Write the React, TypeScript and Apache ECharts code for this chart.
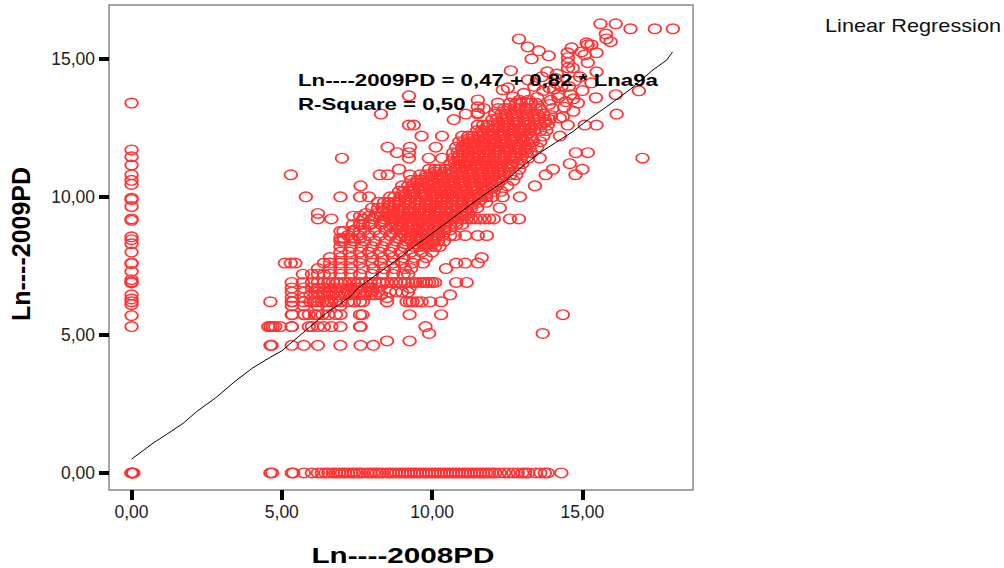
import React, { useEffect, useRef } from "react";
import * as echarts from "echarts";

const xTicks = [0, 5, 10, 15];
const yTicks = [0, 5, 10, 15];
const zeroColumnY = [13.4, 11.7, 11.45, 11.15, 10.8, 10.6, 10.45, 9.95, 9.9, 9.65, 9.2, 9.15, 8.55, 8.45, 8.3, 8.0, 7.6, 7.58, 7.3, 7.0, 6.92, 6.88, 6.45, 6.3, 6.2, 6.1, 5.7, 5.3, 0];
const zeroRowX = [0, 0.03, 0.06, 4.62, 4.68, 5.33, 5.38, 5.73, 6.0, 6.2, 6.33, 6.45, 6.55, 6.7, 6.8, 6.9, 7.0, 7.1, 7.2, 7.32, 7.4, 7.5, 7.6, 7.7, 7.85, 7.95, 8.05, 8.15, 8.25, 8.35, 8.5, 8.6, 8.7, 8.8, 8.9, 9.0, 9.1, 9.2, 9.3, 9.4, 9.5, 9.6, 9.7, 9.8, 9.9, 10.0, 10.1, 10.2, 10.3, 10.4, 10.5, 10.6, 10.7, 10.8, 10.9, 11.0, 11.1, 11.2, 11.3, 11.4, 11.5, 11.6, 11.7, 11.8, 11.9, 12.0, 12.1, 12.25, 12.4, 12.55, 12.7, 12.85, 13.0, 13.1, 13.2, 13.45, 13.6, 13.75, 13.85, 14.3];

const rowLevels = [4.62, 4.78, 5.05, 5.3, 5.73, 6.2, 6.35, 6.45, 6.7, 6.9, 7.2, 7.4, 7.6, 7.8, 8.0, 8.2, 8.4, 8.6, 8.8, 9.0, 9.2, 9.4, 9.6, 9.8, 10.0, 10.2, 10.4, 10.6, 10.8, 11.0, 11.2, 11.4, 11.6, 11.8, 12.0, 12.2, 12.4, 12.6, 12.8, 13.0, 13.2, 13.4];
const rowXs = [
  [4.62, 4.66, 5.33, 5.73, 6.2, 6.95, 7.62, 8.04],
  [8.5, 9.25],
  [9.9, 13.68],
  [4.55, 4.62, 4.7, 4.78, 4.95, 5.33, 5.9, 6.2, 6.65, 6.95, 7.6, 7.62, 9.78],
  [5.33, 5.73, 6.2, 6.55, 6.95, 7.6, 7.68, 9.25, 10.3, 14.35],
  [4.62, 5.33, 5.36, 5.73, 5.95, 6.2, 6.5, 6.8, 6.95, 7.6, 7.7, 8.5, 9.15, 9.26, 9.35, 9.5, 9.65, 9.93, 10.3],
  [5.33, 5.73, 6.2, 8.5],
  [5.95, 6.55, 6.9, 7.3, 7.6, 7.95, 8.1, 10.6],
  [5.33, 5.73, 6.0, 6.2, 6.4, 6.6, 6.8, 7.0, 7.3, 7.5, 7.6, 7.9, 8.0, 8.2, 9.25],
  [5.33, 5.7, 6.0, 6.2, 6.4, 6.55, 6.7, 6.85, 6.95, 7.1, 7.25, 7.4, 7.55, 7.65, 7.8, 7.95, 8.1, 8.25, 8.35, 8.5, 8.65, 8.8, 8.95, 9.1, 9.2, 9.35, 9.45, 9.6, 9.7, 9.8, 9.9, 10.0, 10.1, 10.8, 11.15],
  [5.7, 6.0, 6.2, 6.4, 6.6, 6.95, 7.3, 7.6, 8.0, 8.35, 8.7, 9.05, 9.2],
  [6.2, 6.6, 6.95, 7.3, 7.7, 8.05, 8.4, 8.75, 9.1, 9.3, 10.46],
  [5.1, 5.3, 5.45, 6.4, 6.6, 6.95, 7.3, 7.6, 8.0, 8.3, 8.7, 9.0, 9.35, 9.7, 10.8, 11.1, 11.52],
  [6.6, 6.95, 7.3, 7.65, 8.0, 8.35, 8.7, 9.05, 9.4, 9.8, 11.65],
  [6.95, 7.25, 7.6, 7.9, 8.25, 8.6, 8.95, 9.3, 9.65, 10.0],
  [6.95, 7.3, 7.65, 8.0, 8.35, 8.7, 9.05, 9.4, 9.55, 9.75, 9.9, 10.1, 10.25],
  [6.95, 7.05, 7.4, 7.75, 8.1, 8.45, 8.8, 9.15, 9.3, 9.5, 9.65, 9.85, 10.0, 10.2, 10.4],
  [7.2, 7.55, 7.9, 8.25, 8.6, 8.95, 9.1, 9.3, 9.45, 9.65, 9.8, 10.0, 10.15, 10.35, 10.6, 10.76, 11.1, 11.52, 11.82],
  [7.4, 7.75, 8.1, 8.45, 8.8, 9.0, 9.15, 9.35, 9.5, 9.7, 9.85, 10.05, 10.2, 10.4, 10.6],
  [7.6, 7.95, 8.3, 8.65, 8.85, 9.0, 9.2, 9.35, 9.55, 9.7, 9.9, 10.05, 10.25, 10.4, 10.6, 10.8, 11.0],
  [6.2, 6.65, 7.7, 8.05, 8.4, 8.6, 8.75, 8.95, 9.1, 9.3, 9.45, 9.65, 9.8, 10.0, 10.15, 10.35, 10.5, 10.7, 10.85, 11.0, 11.15, 11.3, 11.45, 11.6, 11.75, 11.9, 12.05, 12.59, 12.89],
  [6.2, 7.8, 8.15, 8.35, 8.5, 8.7, 8.85, 9.05, 9.2, 9.4, 9.55, 9.75, 9.9, 10.1, 10.25, 10.45, 10.6, 10.8, 11.0, 11.2],
  [8.0, 8.2, 8.35, 8.55, 8.7, 8.9, 9.05, 9.25, 9.4, 9.6, 9.75, 9.95, 10.1, 10.3, 10.45, 10.65, 10.8, 11.0, 11.15, 11.3, 11.5, 12.25],
  [8.2, 8.4, 8.55, 8.75, 8.9, 9.1, 9.25, 9.45, 9.6, 9.8, 9.95, 10.15, 10.3, 10.5, 10.65, 10.85, 11.0, 11.2, 11.35, 11.55, 11.8],
  [5.8, 6.95, 7.6, 7.9, 8.6, 8.75, 8.95, 9.1, 9.3, 9.45, 9.65, 9.8, 10.0, 10.15, 10.35, 10.5, 10.7, 10.85, 11.05, 11.2, 11.4, 11.6, 11.8, 12.0, 12.35, 12.92],
  [8.9, 9.05, 9.25, 9.4, 9.6, 9.75, 9.95, 10.1, 10.3, 10.45, 10.65, 10.8, 11.0, 11.15, 11.35, 11.5, 11.7, 11.85, 12.05, 12.3],
  [7.62, 9.0, 9.2, 9.35, 9.55, 9.7, 9.9, 10.05, 10.25, 10.4, 10.6, 10.75, 10.95, 11.1, 11.3, 11.45, 11.65, 11.8, 12.0, 12.15, 12.5, 13.42],
  [9.3, 9.5, 9.65, 9.85, 10.0, 10.2, 10.35, 10.55, 10.7, 10.9, 11.05, 11.25, 11.4, 11.6, 11.75, 11.95, 12.1, 12.3, 12.7],
  [5.3, 8.26, 8.52, 9.26, 9.6, 9.8, 9.95, 10.15, 10.3, 10.5, 10.65, 10.85, 11.0, 11.2, 11.35, 11.55, 11.7, 11.9, 12.05, 12.25, 12.4, 12.6, 12.8, 13.78, 14.77],
  [8.9, 9.9, 10.1, 10.25, 10.45, 10.6, 10.8, 10.95, 11.15, 11.3, 11.5, 11.65, 11.85, 12.0, 12.2, 12.35, 12.55, 12.9, 14.02, 15.0],
  [10.6, 10.75, 10.9, 11.1, 11.25, 11.45, 11.6, 11.8, 11.95, 12.15, 12.3, 12.5, 12.65, 12.85, 13.0, 14.58],
  [7.0, 9.23, 9.89, 10.33, 10.7, 10.85, 11.0, 11.2, 11.35, 11.55, 11.7, 11.9, 12.05, 12.25, 12.4, 12.6, 12.75, 12.95, 13.2, 13.58, 17.0],
  [8.83, 9.23, 10.7, 10.85, 11.05, 11.2, 11.4, 11.55, 11.75, 11.9, 12.1, 12.25, 12.45, 12.6, 12.8, 12.95, 13.15, 13.3, 14.78, 15.18],
  [8.52, 9.26, 10.12, 10.8, 11.0, 11.15, 11.35, 11.5, 11.7, 11.85, 12.05, 12.2, 12.4, 12.55, 12.75, 12.9, 13.1, 13.25, 13.5],
  [10.9, 11.05, 11.25, 11.4, 11.6, 11.75, 11.95, 12.1, 12.3, 12.45, 12.65, 12.8, 13.0, 13.15, 13.35, 13.6],
  [9.65, 10.33, 11.0, 11.2, 11.35, 11.55, 11.7, 11.9, 12.05, 12.25, 12.4, 12.6, 12.75, 12.95, 13.1, 13.3, 13.7, 14.25],
  [11.5, 11.65, 11.85, 12.0, 12.2, 12.35, 12.55, 12.7, 12.9, 13.05, 13.25, 13.4, 13.6, 13.8],
  [9.23, 9.39, 11.52, 11.7, 11.85, 12.05, 12.2, 12.4, 12.55, 12.75, 12.9, 13.1, 13.25, 13.45, 13.6, 13.85, 14.51, 15.08, 15.47],
  [10.72, 12.0, 12.15, 12.35, 12.5, 12.7, 12.85, 13.05, 13.2, 13.4, 13.55, 13.75, 13.9],
  [8.3, 11.12, 11.52, 12.1, 12.3, 12.45, 12.65, 12.8, 13.0, 13.15, 13.35, 13.5, 13.7, 16.14],
  [11.72, 12.2, 12.4, 12.55, 12.75, 12.9, 13.1, 13.25, 13.45, 13.6],
  [12.19, 12.6, 12.8, 12.95, 13.15, 13.3, 13.45],
];
const coreLevels = [8.3, 8.5, 8.7, 8.9, 9.1, 9.3, 9.5, 9.7, 9.9, 10.1, 10.3, 10.5, 10.7, 10.9, 11.1, 11.3, 11.5, 11.7, 11.9, 12.1, 12.3, 12.5, 12.7];
const coreXs = [
  [9.1, 9.4, 9.7, 10.0],
  [8.9, 9.2, 9.5, 9.8, 10.1],
  [8.7, 9.0, 9.3, 9.6, 9.9, 10.2],
  [8.6, 8.9, 9.2, 9.5, 9.8, 10.1, 10.4],
  [8.4, 8.7, 9.0, 9.3, 9.6, 9.9, 10.2, 10.5, 10.8],
  [8.3, 8.6, 8.9, 9.2, 9.5, 9.8, 10.1, 10.4, 10.7, 11.0],
  [8.4, 8.7, 9.0, 9.3, 9.6, 9.9, 10.2, 10.5, 10.8, 11.1],
  [8.6, 8.9, 9.2, 9.5, 9.8, 10.1, 10.4, 10.7, 11.0, 11.3],
  [8.9, 9.2, 9.5, 9.8, 10.1, 10.4, 10.7, 11.0, 11.3, 11.6],
  [9.1, 9.4, 9.7, 10.0, 10.3, 10.6, 10.9, 11.2, 11.5, 11.8],
  [9.3, 9.6, 9.9, 10.2, 10.5, 10.8, 11.1, 11.4, 11.7, 12.0],
  [9.5, 9.8, 10.1, 10.4, 10.7, 11.0, 11.3, 11.6, 11.9, 12.2],
  [9.8, 10.1, 10.4, 10.7, 11.0, 11.3, 11.6, 11.9, 12.2],
  [10.1, 10.4, 10.7, 11.0, 11.3, 11.6, 11.9, 12.2, 12.4],
  [10.8, 11.1, 11.4, 11.7, 12.0, 12.3, 12.6],
  [10.9, 11.2, 11.5, 11.8, 12.1, 12.4, 12.7],
  [10.9, 11.2, 11.5, 11.8, 12.1, 12.4, 12.7, 13.0],
  [11.0, 11.3, 11.6, 11.9, 12.2, 12.5, 12.8, 13.1],
  [11.1, 11.4, 11.7, 12.0, 12.3, 12.6, 12.9, 13.2],
  [11.2, 11.5, 11.8, 12.1, 12.4, 12.7, 13.0, 13.3],
  [11.7, 12.0, 12.3, 12.6, 12.9, 13.2],
  [11.8, 12.1, 12.4, 12.7, 13.0, 13.3],
  [12.2, 12.5, 12.8, 13.1],
];
const lowLevels = [5.3, 5.73, 6.05, 6.2, 6.45, 6.55, 8.5, 8.75, 9.0, 9.3];
const lowXs = [
  [5.33, 6.0, 6.4],
  [5.35, 5.75, 5.9, 6.1, 6.35, 6.8],
  [5.33, 5.73, 6.2, 6.5, 6.95],
  [6.05, 6.35, 6.65, 7.2, 7.4],
  [6.2, 6.4, 6.7, 7.1, 7.45, 7.75, 8.3],
  [5.33, 5.73, 6.2, 6.4, 6.6, 6.8, 7.0, 7.2, 7.4, 7.6, 7.8, 8.0, 8.2, 8.6, 8.8, 9.0, 9.2],
  [6.95, 7.05, 7.3, 7.6],
  [6.95, 7.05, 7.37, 7.6],
  [7.37, 7.6, 7.7, 7.9],
  [7.37, 7.6, 7.9, 8.1],
];
const outlierX = [15.6, 16.11, 16.6, 17.41, 18.01, 15.78, 15.8, 15.94, 12.89, 13.18, 13.55, 13.31, 13.88, 14.64, 14.51, 14.52, 14.52, 14.52, 14.97, 15.14, 15.18, 15.3, 15.08, 15.47, 15.18, 12.62, 13.83, 14.68, 15.47, 14.92, 15.3, 16.88, 16.11, 15.45, 9.23, 11.52, 11.52, 11.52, 12.35, 12.52, 12.69, 13.19, 14.1, 14.3, 14.75, 15.0, 14.2, 14.6, 14.85, 14.4, 14.05, 13.9, 14.35, 14.7, 13.95, 14.15, 14.55, 13.75, 14.0, 14.25, 13.2, 13.5, 13.7, 13.95, 14.2, 14.45, 14.7, 12.9, 13.05, 13.4, 13.65, 13.9, 14.15];
const outlierY = [16.27, 16.27, 16.09, 16.09, 16.09, 15.9, 15.72, 15.62, 15.72, 15.43, 15.29, 15.0, 15.11, 15.4, 15.22, 15.04, 14.86, 14.67, 15.25, 15.58, 15.51, 15.51, 15.14, 15.22, 14.86, 14.57, 14.53, 14.67, 14.53, 14.35, 14.13, 13.84, 13.7, 13.59, 13.66, 13.51, 13.26, 13.04, 13.88, 13.95, 13.62, 14.24, 14.3, 14.0, 14.2, 13.85, 13.6, 13.7, 13.4, 13.25, 13.9, 13.35, 12.9, 13.1, 12.95, 14.45, 14.0, 12.7, 13.2, 12.85, 13.5, 13.6, 13.85, 13.5, 13.7, 13.45, 13.55, 13.5, 13.75, 14.0, 14.35, 13.95, 14.1];
const fitX = [0, 0.25, 0.72, 1.2, 1.72, 2.2, 2.8, 3.38, 4.0, 4.6, 5.0, 5.6, 6.4, 7.27, 7.54, 8.5, 9.48, 10.4, 11.36, 11.9, 12.48, 13.0, 13.58, 14.1, 14.68, 15.2, 15.8, 16.6, 17.35, 17.8, 18];
const fitY = [0.5, 0.7, 1.08, 1.42, 1.8, 2.25, 2.72, 3.26, 3.78, 4.18, 4.42, 4.98, 5.72, 6.38, 6.7, 7.46, 8.26, 9.0, 9.78, 10.2, 10.62, 11.1, 11.59, 11.96, 12.36, 12.8, 13.26, 13.9, 14.6, 14.95, 15.25];

const ringPath = "path://M0 50A50 50 0 1 1 100 50A50 50 0 1 1 0 50Z";
const tickLabel = (v: number) => v.toFixed(2).replace(".", ",");

export default function App() {
  const ref = useRef<HTMLDivElement>(null);
  useEffect(() => {
    document.body.style.margin = "0";
    const chart = echarts.init(ref.current!, undefined, { renderer: "svg" });
    const points: number[][] = [];
    zeroColumnY.forEach((y) => points.push([0, y]));
    zeroRowX.forEach((x) => points.push([x, 0]));
    rowLevels.forEach((y, i) => rowXs[i].forEach((x) => points.push([x, y])));
    coreLevels.forEach((y, i) => coreXs[i].forEach((x) => points.push([x, y])));
    lowLevels.forEach((y, i) => lowXs[i].forEach((x) => points.push([x, y])));
    outlierX.forEach((x, i) => points.push([x, outlierY[i]]));
    const fontFamily = '"Liberation Sans", Arial, sans-serif';
    const axisCommon = {
      type: "value" as const,
      splitLine: { show: false },
      axisLine: { show: false, onZero: false },
      axisTick: { show: true, length: 10, lineStyle: { color: "#000", width: 4 } },
    };
    chart.setOption({
      animation: false,
      backgroundColor: "#fff",
      grid: { left: 109, top: 5, width: 584, height: 485, show: true, borderColor: "#888", borderWidth: 1.5, backgroundColor: "#fff" },
      xAxis: {
        ...axisCommon,
        min: -0.75,
        max: 18.68,
        axisTick: { ...axisCommon.axisTick, customValues: xTicks },
        axisLabel: { customValues: xTicks, formatter: tickLabel, fontSize: 17.5, fontFamily, color: "#222", margin: 13 },
      },
      yAxis: {
        ...axisCommon,
        min: -0.62,
        max: 16.95,
        axisTick: { ...axisCommon.axisTick, customValues: yTicks },
        axisLabel: { customValues: yTicks, formatter: tickLabel, fontSize: 17.5, fontFamily, color: "#222", margin: 14, padding: [3, 0, 0, 0] },
      },
      series: [
        {
          type: "scatter",
          data: points,
          symbol: ringPath,
          symbolSize: [12.6, 9.6],
          silent: true,
          progressive: 0,
          itemStyle: { color: "rgba(0,0,0,0)", borderColor: "#ff3333", borderWidth: 1.6, opacity: 1 },
        },
        {
          type: "line",
          data: fitX.map((x, i) => [x, fitY[i]]),
          showSymbol: false,
          silent: true,
          z: 3,
          lineStyle: { color: "#000", width: 1 },
        },
      ],
      graphic: [
        { type: "text", z: 100, x: 298, y: 80, scaleX: 1.31, style: { text: "Ln----2009PD = 0,47 + 0,82 * Lna9a", font: `bold 17px ${fontFamily}`, fill: "#000", textAlign: "left", textVerticalAlign: "middle" } },
        { type: "text", z: 100, x: 298, y: 104, scaleX: 1.31, style: { text: "R-Square = 0,50", font: `bold 17px ${fontFamily}`, fill: "#000", textAlign: "left", textVerticalAlign: "middle" } },
        { type: "text", z: 100, x: 403, y: 555, scaleX: 1.35, style: { text: "Ln----2008PD", font: `bold 22px ${fontFamily}`, fill: "#000", textAlign: "center", textVerticalAlign: "middle" } },
        { type: "text", z: 100, x: 21, y: 244, rotation: Math.PI / 2, style: { text: "Ln----2009PD", font: `bold 25px ${fontFamily}`, fill: "#000", textAlign: "center", textVerticalAlign: "middle" } },
        { type: "text", z: 100, x: 825, y: 26, scaleX: 1.24, style: { text: "Linear Regression", font: `17.5px ${fontFamily}`, fill: "#111", textAlign: "left", textVerticalAlign: "middle" } },
      ],
    });
    return () => chart.dispose();
  }, []);
  return <div ref={ref} style={{ position: "fixed", left: 0, top: 0, width: 1004, height: 568 }} />;
}
